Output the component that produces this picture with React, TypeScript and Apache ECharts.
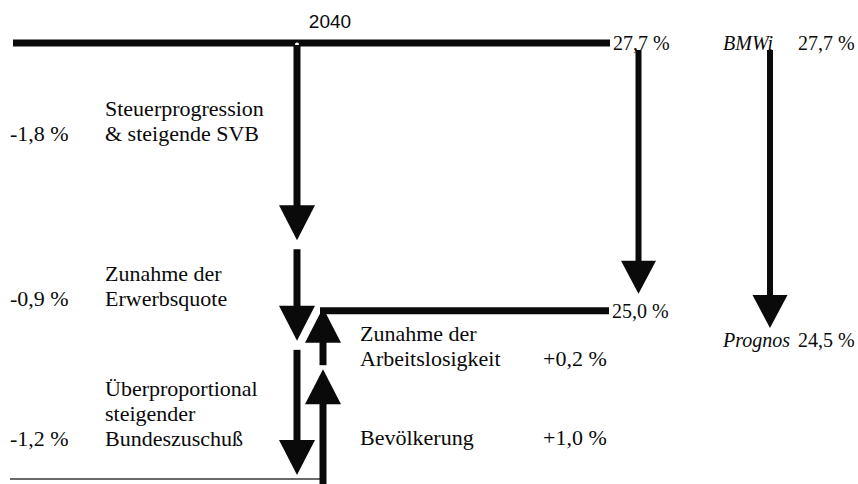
import React, { useEffect, useRef } from "react";
import * as echarts from "echarts";

// ---------------- data ----------------
const yearLabel = "2040";
const startValue = 27.7;
const startLabel = "27,7 %";
const stepNames = ["Steuerprogression\n& steigende SVB", "Zunahme der\nErwerbsquote", "Überproportional\nsteigender\nBundeszuschuß"];
const stepValues = [-1.8, -0.9, -1.2];
const stepLabels = ["-1,8 %", "-0,9 %", "-1,2 %"];
const offsetNames = ["Bevölkerung", "Zunahme der\nArbeitslosigkeit"];
const offsetValues = [1.0, 0.2];
const offsetLabels = ["+1,0 %", "+0,2 %"];
const resultValue = 25.0;
const resultLabel = "25,0 %";
const compareNames = ["BMWi", "Prognos"];
const compareValues = [27.7, 24.5];
const compareLabels = ["27,7 %", "24,5 %"];

// ---------------- layout ----------------
const W = 858;
const H = 484;
const LAY = {
  gridTop: 43,
  mainHeight: 436,
  cmpHeight: 296,
  downX: 297,
  upX: 323,
  rightX: 638.5,
  cmpX: 770,
  shaftW: 7,
  headW: 36,
  headH: 35,
  rShaftW: 6,
  rHeadW: 35,
  rHeadH: 33,
  topLine: [13, 610],
  resultLine: [320, 609],
  bottomLine: [10, 325],
  lineW: 7,
  stepTextX: 105,
  stepValX: 10,
  stepY: [133, 298, 438],
  offTextX: 360,
  offValX: 543,
  offY: [437, 358],
  lineH: 25,
};
const SERIF = "Liberation Serif";
const SANS = "Liberation Sans";
const INK = "#0a0a0a";

const r1 = (v: number) => Math.round(v * 10) / 10;

// cumulative levels of the waterfall
const levels: number[] = [startValue];
stepValues.forEach((v) => levels.push(r1(levels[levels.length - 1] + v)));
const bottomLevel = levels[levels.length - 1];
const upLevels: number[] = [bottomLevel];
offsetValues.forEach((v) => upLevels.push(r1(upLevels[upLevels.length - 1] + v)));

function arrow(x: number, yStart: number, yTip: number, shaftW: number, headW: number, headH: number) {
  const down = yTip > yStart;
  const base = down ? yTip - headH : yTip + headH;
  const y0 = down ? yStart : base - 1;
  const y1 = down ? base + 1 : yStart;
  return [
    { type: "rect", shape: { x: x - shaftW / 2, y: y0, width: shaftW, height: Math.max(0, y1 - y0) }, style: { fill: INK } },
    { type: "polygon", shape: { points: [[x - headW / 2, base], [x + headW / 2, base], [x, yTip]] }, style: { fill: INK } },
  ];
}

function text(t: string, x: number, y: number, size: number, opts: any = {}) {
  return {
    type: "text",
    x,
    y: y + LAY.lineH / 2,
    style: {
      text: t,
      fontSize: size,
      fontFamily: opts.family || SERIF,
      fontStyle: opts.italic ? "italic" : "normal",
      fontWeight: "normal",
      fill: INK,
      align: opts.align || "left",
      verticalAlign: "bottom",
      lineHeight: LAY.lineH,
    },
  };
}

export default function App() {
  const ref = useRef<HTMLDivElement>(null);

  useEffect(() => {
    if (!ref.current) return;
    const chart = echarts.init(ref.current, null, { renderer: "svg" });

    const resultLineY = (api: any) => api.coord([0, resultValue])[1] - LAY.headH + 1;

    const graphicTexts: any[] = [];
    graphicTexts.push(text(yearLabel, 330, 21, 19, { family: SANS, align: "center" }));
    graphicTexts.push(text(startLabel, 613, 43, 20));
    graphicTexts.push(text(resultLabel, 612, 311, 20));
    graphicTexts.push(text(compareNames[0], 723, 43, 20, { italic: true }));
    graphicTexts.push(text(compareLabels[0], 798, 43, 20));
    graphicTexts.push(text(compareNames[1], 723, 340, 20, { italic: true }));
    graphicTexts.push(text(compareLabels[1], 798, 340, 20));
    stepNames.forEach((n, i) => {
      graphicTexts.push(text(n, LAY.stepTextX, LAY.stepY[i], 22));
      graphicTexts.push(text(stepLabels[i], LAY.stepValX, LAY.stepY[i], 22));
    });
    offsetNames.forEach((n, i) => {
      graphicTexts.push(text(n, LAY.offTextX, LAY.offY[i], 22));
      graphicTexts.push(text(offsetLabels[i], LAY.offValX, LAY.offY[i], 22));
    });

    const option: any = {
      animation: false,
      backgroundColor: "#ffffff",
      grid: [
        { left: 0, top: LAY.gridTop, width: W, height: LAY.mainHeight },
        { left: 0, top: LAY.gridTop, width: W, height: LAY.cmpHeight },
      ],
      xAxis: [
        { gridIndex: 0, type: "value", min: 0, max: W, show: false },
        { gridIndex: 1, type: "value", min: 0, max: W, show: false },
      ],
      yAxis: [
        { gridIndex: 0, type: "value", min: bottomLevel, max: startValue, show: false },
        { gridIndex: 1, type: "value", min: compareValues[1], max: compareValues[0], show: false },
      ],
      series: [
        {
          type: "custom",
          xAxisIndex: 0,
          yAxisIndex: 0,
          clip: false,
          silent: true,
          data: [[startValue, 0], [resultValue, 1], [bottomLevel, 2]],
          renderItem: (params: any, api: any) => {
            const v = api.value(0);
            const kind = api.value(1);
            const y = api.coord([0, v])[1];
            if (kind === 0) {
              return {
                type: "group",
                children: [
                  { type: "rect", shape: { x: LAY.topLine[0], y: y - LAY.lineW / 2, width: LAY.topLine[1] - LAY.topLine[0], height: LAY.lineW }, style: { fill: INK } },
                  { type: "circle", shape: { cx: LAY.downX, cy: y + 1.5, r: 2 }, style: { fill: "#ffffff" } },
                ],
              };
            }
            if (kind === 1) {
              const ly = resultLineY(api);
              return { type: "rect", shape: { x: LAY.resultLine[0], y: ly - LAY.lineW / 2, width: LAY.resultLine[1] - LAY.resultLine[0], height: LAY.lineW }, style: { fill: INK } };
            }
            return { type: "rect", shape: { x: LAY.bottomLine[0], y: y - 1, width: LAY.bottomLine[1] - LAY.bottomLine[0], height: 2 }, style: { fill: "#6a6a6a" } };
          },
        },
        {
          type: "custom",
          xAxisIndex: 0,
          yAxisIndex: 0,
          clip: false,
          silent: true,
          data: stepValues.map((_, i) => [levels[i], levels[i + 1], i]),
          renderItem: (params: any, api: any) => {
            const y0 = api.coord([0, api.value(0)])[1];
            const y1 = api.coord([0, api.value(1)])[1];
            const i = api.value(2);
            const start = i === 0 ? y0 + 2 : y0 + 5;
            const tip = y1 - 4;
            return { type: "group", children: arrow(LAY.downX, start, tip, LAY.shaftW, LAY.headW, LAY.headH) };
          },
        },
        {
          type: "custom",
          xAxisIndex: 0,
          yAxisIndex: 0,
          clip: false,
          silent: true,
          data: offsetValues.map((_, i) => [upLevels[i], upLevels[i + 1], i]),
          renderItem: (params: any, api: any) => {
            const y0 = api.coord([0, api.value(0)])[1];
            const to = api.value(1);
            const y1 = api.coord([0, to])[1];
            const i = api.value(2);
            const start = i === 0 ? y0 + 5 : y0 - 2;
            const tip = Math.abs(to - resultValue) < 1e-6 ? resultLineY(api) - 3 : y1 + 2;
            return { type: "group", children: arrow(LAY.upX, start, tip, LAY.shaftW, LAY.headW, LAY.headH) };
          },
        },
        {
          type: "custom",
          xAxisIndex: 1,
          yAxisIndex: 1,
          clip: false,
          silent: true,
          data: [[startValue, resultValue, 0], [compareValues[0], compareValues[1], 1]],
          renderItem: (params: any, api: any) => {
            const y0 = api.coord([0, api.value(0)])[1];
            const y1 = api.coord([0, api.value(1)])[1];
            const k = api.value(2);
            const x = k === 0 ? LAY.rightX : LAY.cmpX;
            const tip = k === 0 ? y1 + 1 : y1 - 11;
            return { type: "group", children: arrow(x, y0 + 7, tip, LAY.rShaftW, LAY.rHeadW, LAY.rHeadH) };
          },
        },
      ],
      graphic: graphicTexts,
    };

    chart.setOption(option);
    return () => chart.dispose();
  }, []);

  return (
    <div
      ref={ref}
      style={{ position: "absolute", left: 0, top: 0, width: W, height: H, background: "#ffffff" }}
    />
  );
}
